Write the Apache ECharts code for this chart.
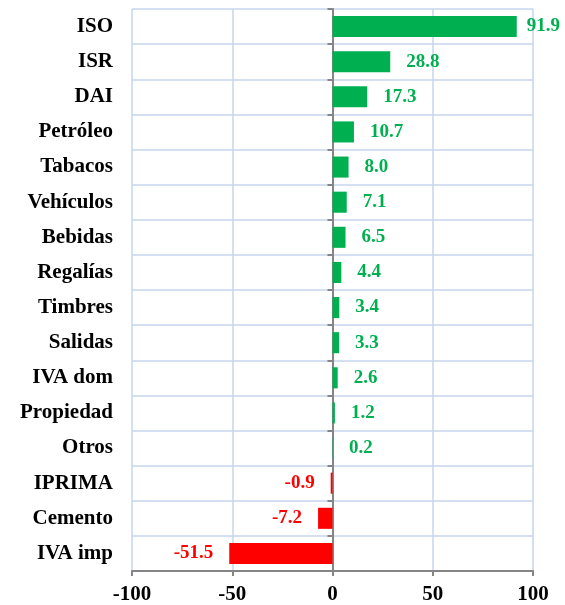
<!DOCTYPE html>
<html>
<head>
<meta charset="utf-8">
<script src="https://cdn.jsdelivr.net/npm/echarts@6/dist/echarts.min.js"></script>
<style>
  html, body { margin: 0; padding: 0; background: #fff; }
  #main { width: 565px; height: 605px; }
</style>
</head>
<body>
<div id="main"></div>
<script>
// categorias, de arriba hacia abajo
var categorias = ['ISO', 'ISR', 'DAI', 'Petróleo', 'Tabacos', 'Vehículos', 'Bebidas', 'Regalías',
  'Timbres', 'Salidas', 'IVA dom', 'Propiedad', 'Otros', 'IPRIMA', 'Cemento', 'IVA imp'];
var valores = [91.9, 28.8, 17.3, 10.7, 8.0, 7.1, 6.5, 4.4, 3.4, 3.3, 2.6, 1.2, 0.2, -0.9, -7.2, -51.5];
var ticksX = [-100, 100, 50];

var fuente = "'Times New Roman', 'Liberation Serif', serif";
var verde = '#00B050';
var rojo = '#FF0000';
var rejilla = '#C6D6EC';
var gris = '#858585';

var datos = valores.map(function (v) {
  var neg = v < 0;
  return {
    value: v,
    itemStyle: { color: neg ? rojo : verde },
    label: {
      position: neg ? 'left' : 'right',
      color: neg ? rojo : verde,
      distance: v > 80 ? 10 : 16 // la barra mas larga deja poco espacio
    }
  };
});

var chart = echarts.init(document.getElementById('main'));

chart.setOption({
  backgroundColor: '#ffffff',
  animation: false,
  grid: { left: 132, right: 32, top: 9, bottom: 33 },
  xAxis: {
    type: 'value',
    min: ticksX[0],
    max: ticksX[1],
    interval: ticksX[2],
    axisLine: { show: true, lineStyle: { color: gris, width: 2 } },
    axisTick: { show: true, length: 5, lineStyle: { color: gris, width: 2 } },
    axisLabel: { color: '#000', fontFamily: fuente, fontWeight: 'bold', fontSize: 21, margin: 13 },
    splitLine: { show: true, lineStyle: { color: rejilla, width: 1.5 } }
  },
  yAxis: [{
    type: 'category',
    data: categorias,
    inverse: true,
    position: 'left',
    axisLine: { show: false, onZero: false },
    axisTick: { show: false },
    axisLabel: { color: '#000', fontFamily: fuente, fontWeight: 'bold', fontSize: 21, margin: 19 },
    splitLine: { show: true, lineStyle: { color: rejilla, width: 1.5 } }
  }, {
    type: 'category',
    data: categorias,
    inverse: true,
    position: 'right',
    axisLine: { show: true, onZero: true, lineStyle: { color: gris, width: 2 } },
    axisTick: { show: true, inside: true, length: 5, lineStyle: { color: gris, width: 2 } },
    axisLabel: { show: false },
    splitLine: { show: false }
  }],
  series: [{
    type: 'bar',
    yAxisIndex: 0,
    data: datos,
    barWidth: '60%',
    label: {
      show: true,
      fontFamily: fuente,
      fontWeight: 'bold',
      fontSize: 19,
      formatter: function (p) { return p.value.toFixed(1); }
    }
  }]
});
</script>
</body>
</html>
